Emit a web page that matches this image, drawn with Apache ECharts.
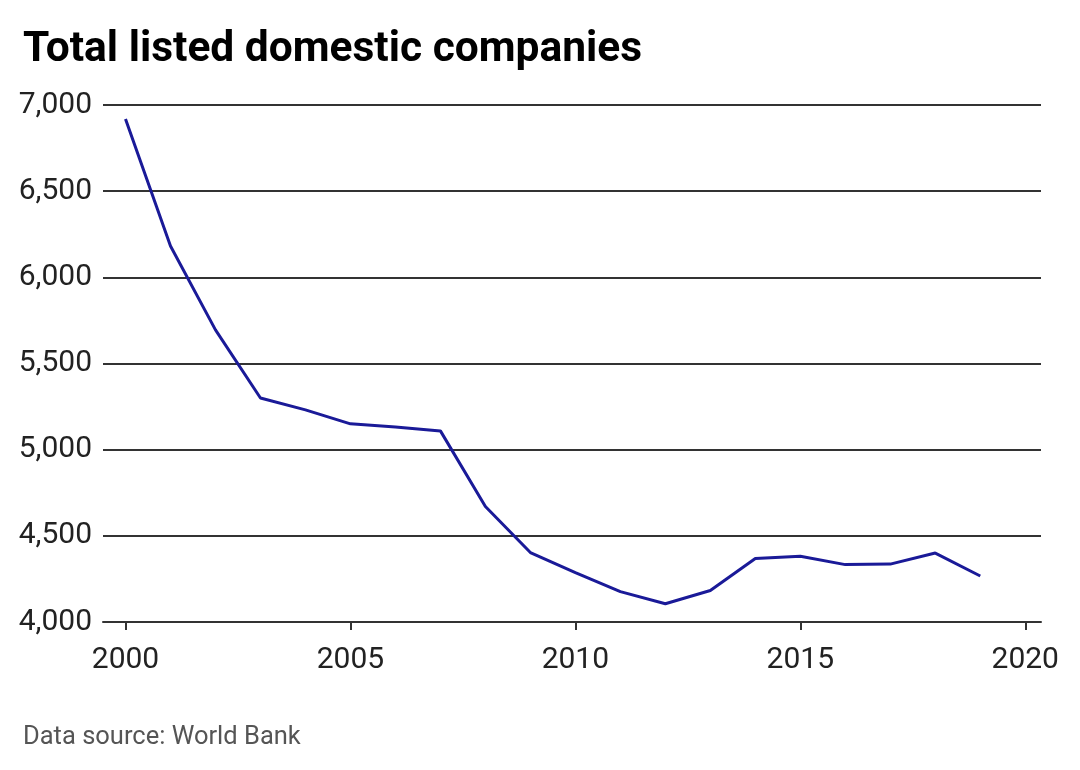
<!DOCTYPE html>
<html>
<head>
<meta charset="utf-8">
<script src="https://cdn.jsdelivr.net/npm/echarts@6/dist/echarts.min.js"></script>
<style>
  html, body { margin: 0; padding: 0; background: #fff; }
  #chart { width: 1080px; height: 770px; }
</style>
</head>
<body>
<div id="chart"></div>
<script>
var years = [2000, 2001, 2002, 2003, 2004, 2005, 2006, 2007, 2008, 2009,
             2010, 2011, 2012, 2013, 2014, 2015, 2016, 2017, 2018, 2019];
var companies = [6919, 6182, 5695, 5300, 5231, 5150, 5132, 5109, 4670, 4403,
                 4287, 4176, 4106, 4183, 4369, 4381, 4333, 4336, 4400, 4267];
var xTicks = [2000, 2005, 2010, 2015, 2020];

var myChart = echarts.init(document.getElementById('chart'));

var font = 'Roboto, "Noto Sans", sans-serif';

myChart.setOption({
    animation: false,
    backgroundColor: '#fff',
    title: [{
        text: 'Total listed domestic companies',
        left: 18,
        top: 24,
        textStyle: { fontFamily: font, fontWeight: 'bold', fontSize: 42.5, color: '#000' }
    }, {
        text: 'Data source: World Bank',
        left: 18,
        top: 720,
        textStyle: { fontFamily: font, fontWeight: 'normal', fontSize: 25.5, color: '#555' }
    }],
    grid: {
        left: 103,
        right: 39,
        top: 105,
        bottom: 148
    },
    xAxis: {
        type: 'value',
        min: 1999.5,
        max: 2020.35,
        axisLine: { show: true, lineStyle: { color: '#333', width: 2 } },
        axisTick: { show: true, customValues: xTicks, length: 8, lineStyle: { color: '#333', width: 2 } },
        axisLabel: {
            customValues: xTicks,
            margin: 23,
            fontFamily: font,
            fontSize: 30,
            color: '#222',
            formatter: function (v) { return String(v); }
        },
        splitLine: { show: false }
    },
    yAxis: {
        type: 'value',
        min: 4000,
        max: 7000,
        interval: 500,
        axisLine: { show: false },
        axisTick: { show: false },
        axisLabel: {
            margin: 11,
            fontFamily: font,
            fontSize: 30,
            color: '#222',
            formatter: function (v) { return v.toLocaleString('en-US'); }
        },
        splitLine: { lineStyle: { color: '#333', width: 2 } }
    },
    series: [{
        type: 'line',
        data: years.map(function (y, i) { return [y, companies[i]]; }),
        showSymbol: false,
        lineStyle: { color: '#1a1a98', width: 3 },
        itemStyle: { color: '#1a1a98' }
    }]
});
</script>
</body>
</html>
